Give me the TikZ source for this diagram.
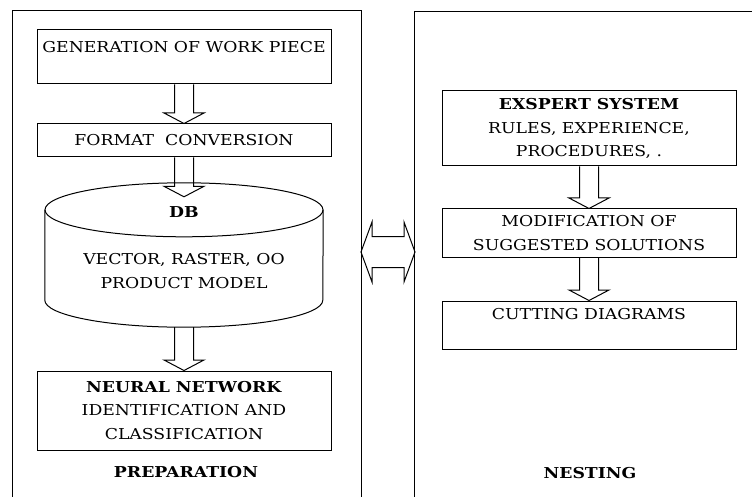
\documentclass[tikz,border=0pt]{standalone}
\usepackage{fontspec}
\setmainfont[FakeStretch=1.15]{DejaVu Serif}
\usetikzlibrary{calc}
\newcommand{\txtsize}{\fontsize{15}{23.5}\selectfont}
\tikzstyle{box}=[rectangle,draw=black,line width=1pt,minimum width=294pt,inner sep=1pt,align=center]
\tikzstyle{frame}=[line width=0.9pt]
\tikzstyle{title}=[font=\txtsize\bfseries]
\newcommand{\blockarrow}[2]{%
  \draw[line width=1pt] let \p1=(#1), \p2=(#2) in
    (\x1-9.5pt,\y1) -- (\x1-9.5pt,\y2+10.5pt) -- (\x1-20pt,\y2+10.5pt) -- (\x1,\y2)
    -- (\x1+20pt,\y2+10.5pt) -- (\x1+9.5pt,\y2+10.5pt) -- (\x1+9.5pt,\y1);}

\begin{document}
\begin{tikzpicture}[x=1pt,y=-1pt,font=\txtsize]
\useasboundingbox (0,0) rectangle (752,497);
\draw[frame] (12,497) -- (12,10) coordinate (prepTL) -- (361,10) -- (361,497);
\draw[frame] (414,497) -- (414,11) coordinate (nestTL) -- (752,11);
\coordinate (prepR) at (361,252); \coordinate (nestL) at (415,252);
\node[box,minimum height=54pt] (gen) at (184,57) {};
\node[] at (184,47) {GENERATION OF WORK PIECE};
\node[box,minimum height=33pt] (fmt) at (184,140.5) {FORMAT\ \ CONVERSION};
\node[minimum width=278pt,minimum height=144pt,inner sep=0pt] (db) at (184,255) {};
\draw[line width=1pt] ([yshift=-27pt]db.north west) -- ([yshift=27pt]db.south west)
  arc[start angle=180,end angle=360,x radius=139pt,y radius=27pt] -- ([yshift=-27pt]db.north east);
\draw[line width=1pt] ([yshift=-27pt]db.north) ellipse[x radius=139pt,y radius=27pt];
\node[title] at ([yshift=-29pt]db.north) {DB};
\node[align=center] at (184,271) {VECTOR, RASTER, OO\\PRODUCT MODEL};
\node[box,minimum height=79pt] (nn) at (184,410.5) {\textbf{NEURAL NETWORK}\\IDENTIFICATION AND\\CLASSIFICATION};
\node[title] (prep) at (186,472) {PREPARATION};
\coordinate (dbin) at ([yshift=-14pt]db.north);
\blockarrow{gen.south}{fmt.north}
\blockarrow{fmt.south}{dbin}
\blockarrow{db.south}{nn.north}
\node[box,minimum height=75pt] (exp) at (589,128.5) {\textbf{EXSPERT SYSTEM}\\RULES, EXPERIENCE,\\PROCEDURES, .};
\node[box,minimum height=48pt] (mod) at (589,233) {MODIFICATION OF\\SUGGESTED SOLUTIONS};
\node[box,minimum height=48pt] (cut) at (589,325) {};
\node[] at (589,314) {CUTTING DIAGRAMS};
\node[title] (nest) at (590,473) {NESTING};
\blockarrow{exp.south}{mod.north}
\blockarrow{mod.south}{cut.north}
\draw[line width=1pt] (prepR) -- ($(prepR)+(11,-30)$) -- ($(prepR)+(11,-15.5)$) -- ($(nestL)+(-11,-15.5)$)
  -- ($(nestL)+(-11,-30)$) -- (nestL) -- ($(nestL)+(-11,30)$) -- ($(nestL)+(-11,15.5)$)
  -- ($(prepR)+(11,15.5)$) -- ($(prepR)+(11,30)$) -- cycle;
\end{tikzpicture}
\end{document}
